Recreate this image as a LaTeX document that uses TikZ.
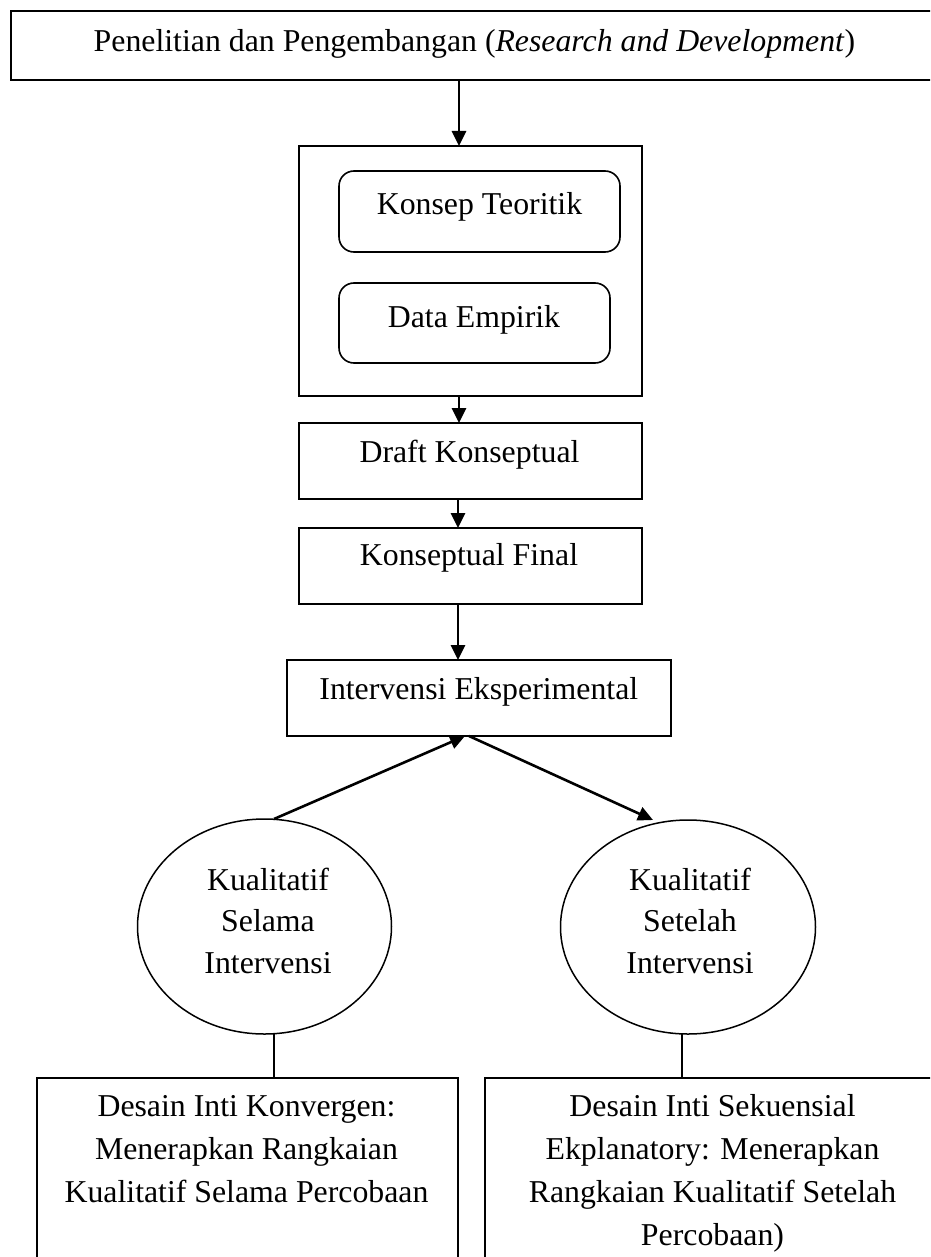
\documentclass[tikz,border=0pt]{standalone}
\usepackage{fontspec}
\setmainfont{Liberation Serif}
\usetikzlibrary{arrows.meta,shapes.geometric}
\begin{document}
\begin{tikzpicture}[x=1pt,y=-1pt,
  shp/.style={draw,inner sep=0pt,outer sep=0pt,line width=1.9pt},
  rbox/.style={shp,rounded corners=15pt,line width=1.6pt},
  ell/.style={shp,ellipse,line width=1.5pt},
  txt/.style={inner sep=0pt,outer sep=0pt,anchor=base,align=center,font=\fontsize{31.8}{43}\selectfont},
  etxt/.style={txt,font=\fontsize{31.8}{41.5}\selectfont},
  arr/.style={line width=2.8pt,-{Triangle[length=15pt,width=14pt]}},
  ln/.style={line width=2.4pt}]
\useasboundingbox (0,0) rectangle (930,1257);
\clip (0,0) rectangle (930,1257);
\fill[white] (0,0) rectangle (930,1257);

% top box
\node[shp,line width=2.2pt,minimum width=929pt,minimum height=69pt] (rd) at (475.5,45.5) {};
\node[txt] (rdt) at (474.5,52) {Penelitian dan Pengembangan (\textit{Research and Development})};

% container with two rounded boxes
\node[shp,minimum width=343pt,minimum height=250pt] (cont) at (470.5,271) {};
\node[rbox,minimum width=281pt,minimum height=81pt] (kt) at (479.5,211.5) {};
\node[txt] (ktt) at (479.5,215) {Konsep Teoritik};
\node[rbox,minimum width=271pt,minimum height=80pt] (de) at (474.5,323) {};
\node[txt] (det) at (474,327) {Data Empirik};

% draft / final / intervensi
\node[shp,minimum width=343pt,minimum height=76pt] (draft) at (470.5,461) {};
\node[txt] (draftt) at (469.5,462) {Draft Konseptual};
\node[shp,minimum width=343pt,minimum height=76pt] (final) at (470.5,566) {};
\node[txt] (finalt) at (469,565) {Konseptual Final};
\node[shp,minimum width=384pt,minimum height=76pt] (iv) at (479,698) {};
\node[txt] (ivt) at (478.8,699) {Intervensi Eksperimental};

% ellipses (multi-line text: base anchor = last line)
\node[ell,minimum width=254pt,minimum height=215pt] (le) at (264.5,926.5) {};
\node[etxt] (let) at (268,973) {Kualitatif\\Selama\\Intervensi};
\node[ell,minimum width=255pt,minimum height=214pt] (re) at (688,927) {};
\node[etxt] (ret) at (690,973) {Kualitatif\\Setelah\\Intervensi};

% bottom boxes
\node[shp,line width=2.2pt,minimum width=421pt,minimum height=212pt] (lb) at (247.5,1184) {};
\node[txt] (lbt) at (246.5,1202) {Desain Inti Konvergen:\\Menerapkan Rangkaian\\Kualitatif Selama Percobaan};
\node[shp,line width=2.2pt,minimum width=455pt,minimum height=212pt] (rb) at (712.5,1184) {};
\node[txt] (rbt) at (712.5,1245) {Desain Inti Sekuensial\\Ekplanatory: Menerapkan\\Rangkaian Kualitatif Setelah\\Percobaan)};

% connectors
\draw[arr] ([xshift=-16.5pt]rd.south) -- ([xshift=-11.5pt]cont.north);
\draw[arr] ([xshift=-11.5pt]cont.south) -- ([xshift=-11.5pt]draft.north);
\draw[arr] ([xshift=-12.5pt]draft.south) -- ([xshift=-12.5pt]final.north);
\draw[arr] ([xshift=-12.5pt]final.south) -- ([xshift=-21pt]iv.north);
\draw[arr,line width=2.6pt] ([xshift=9.5pt]le.north) -- ([xshift=-14pt]iv.south);
\draw[arr,line width=2.6pt] ([xshift=-10pt]iv.south) -- ([xshift=-35pt]re.north);
\draw[ln] ([xshift=9.5pt]le.south) -- ([xshift=26.5pt]lb.north);
\draw[ln] ([xshift=-6pt]re.south) -- ([xshift=-30.5pt]rb.north);
\end{tikzpicture}
\end{document}
